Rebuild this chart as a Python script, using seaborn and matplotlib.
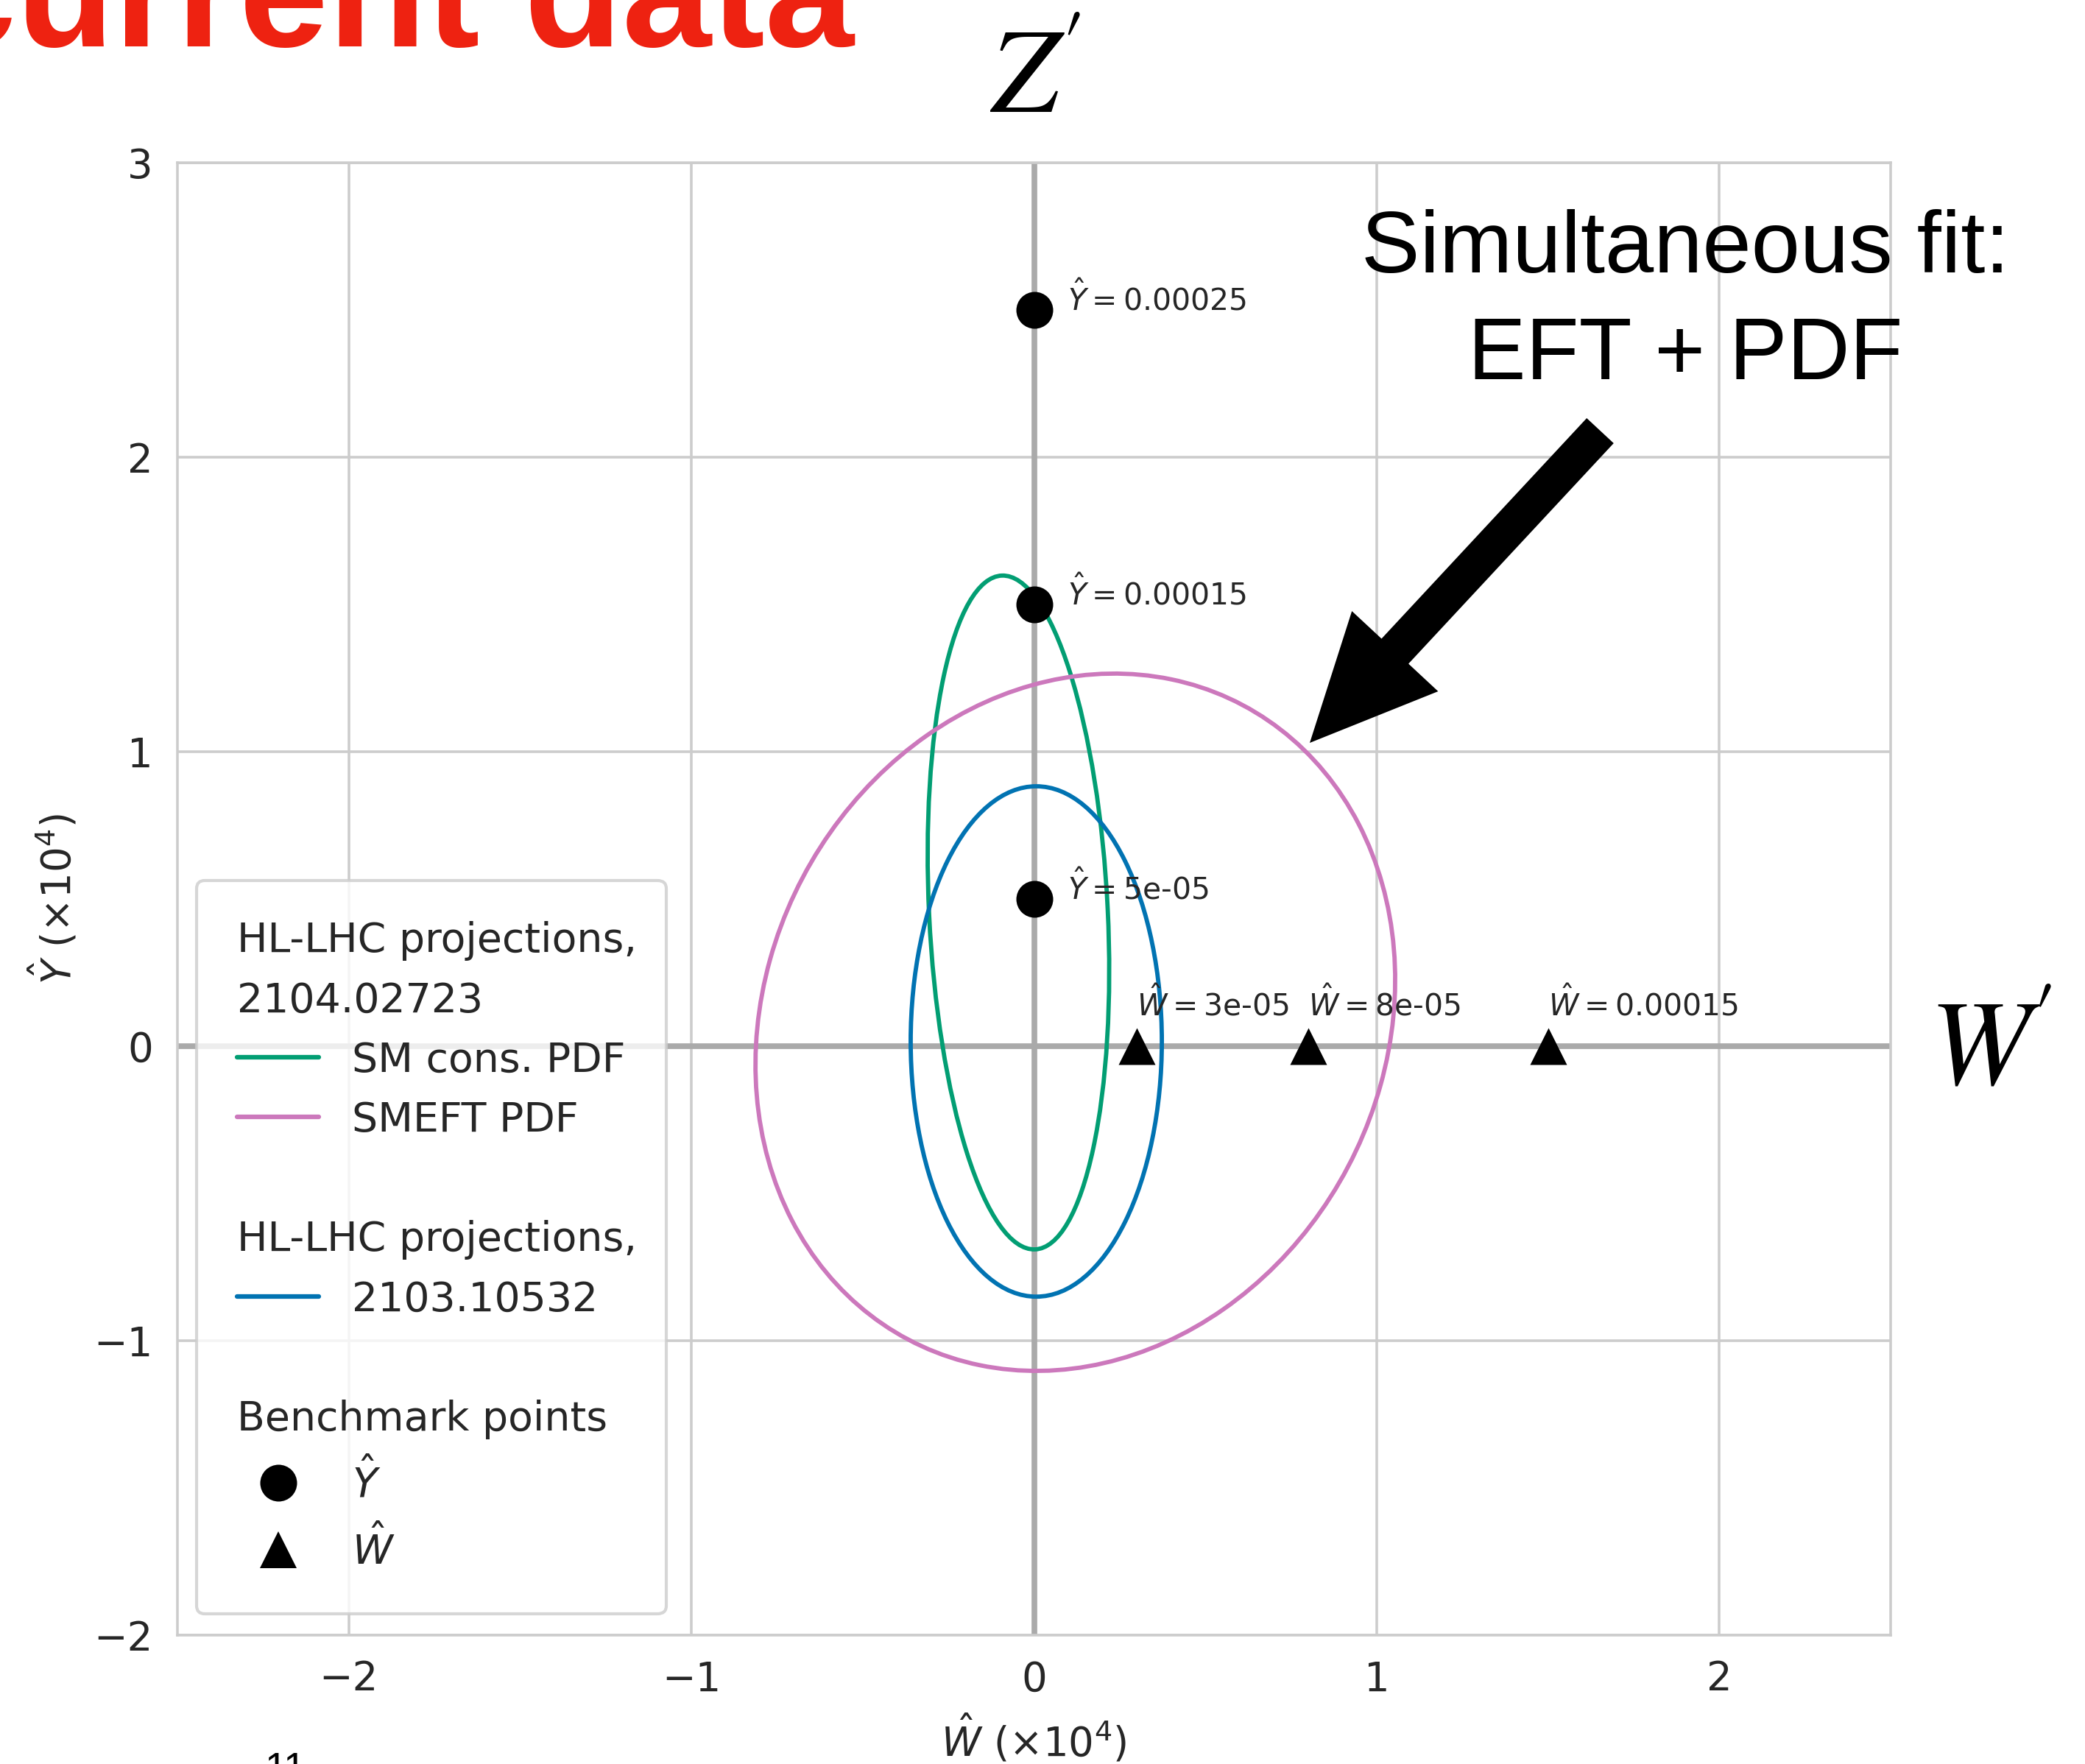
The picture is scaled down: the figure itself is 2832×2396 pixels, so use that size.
import numpy as np
import pandas as pd
import matplotlib
matplotlib.use("Agg")
import matplotlib.pyplot as plt
from matplotlib.patches import Ellipse, FancyArrow
from matplotlib.lines import Line2D
import seaborn as sns

# ---------------- data ----------------
scale = 1e4
bench_Y_values = [5e-05, 0.00015, 0.00025]      # Y-hat benchmark points (W-hat = 0)
bench_Y_W = [0.0, 0.0, 0.0]
bench_W_values = [3e-05, 8e-05, 0.00015]        # W-hat benchmark points (Y-hat = 0)
bench_W_Y = [0.0, 0.0, 0.0]

contour_labels = ["SM cons. PDF", "SMEFT PDF", "2103.10532"]
contour_center_W = [-0.0455, 0.1205, 0.0065]
contour_center_Y = [0.454, 0.0813, 0.016]
contour_width = [2.290, 2.395, 0.733]
contour_height = [0.5215, 1.832, 1.733]
contour_angle = [92.41, 76.52, 0.0]

xticks = [-2, -1, 0, 1, 2]
yticks = [-2, -1, 0, 1, 2, 3]

# ---------------- style ----------------
sns.set_theme(style="whitegrid", palette="colorblind")
plt.rcParams["font.family"] = ["DejaVu Sans"]
pal = sns.color_palette("colorblind")
contour_colors = [pal[2], pal[4], pal[0]]

DPI = 300
W_PX, H_PX = 2832, 2396
fig = plt.figure(figsize=(W_PX / DPI, H_PX / DPI), dpi=DPI)
ax = fig.add_axes([241 / W_PX, 1 - 2221 / H_PX, (2568 - 241) / W_PX, 2000 / H_PX])

FS = 13.1
LFS = 13.3
ax.set_xlim(-2.5, 2.5)
ax.set_ylim(-2, 3)
ax.set_xticks(xticks)
ax.set_yticks(yticks)
ax.tick_params(labelsize=FS, pad=8, length=0, colors=".15")
ax.grid(True, color=".8", lw=0.85)
for sp in ax.spines.values():
    sp.set_color(".8")
    sp.set_linewidth(0.85)

ax.axhline(0, color="#aaaaaa", lw=1.85, zorder=1)
ax.axvline(0, color="#aaaaaa", lw=1.85, zorder=1)

for cx, cy, w, h, a, c in zip(contour_center_W, contour_center_Y, contour_width,
                              contour_height, contour_angle, contour_colors):
    ax.add_patch(Ellipse((cx, cy), w, h, angle=a, fill=False, ec=c, lw=1.4, zorder=2))

dfY = pd.DataFrame({"W": np.array(bench_Y_W),
                    "Y": np.array(bench_Y_values) * scale})
dfW = pd.DataFrame({"W": np.array(bench_W_values) * scale,
                    "Y": np.array(bench_W_Y)})
sns.scatterplot(data=dfY, x="W", y="Y", marker="o", s=144, color="black",
                linewidth=0, zorder=3, ax=ax, legend=False)
sns.scatterplot(data=dfW, x="W", y="Y", marker="^", s=144, color="black",
                linewidth=0, zorder=3, ax=ax, legend=False)

ANN = 9.8
for v, w in zip(bench_Y_values, bench_Y_W):
    ax.annotate(rf"$\hat{{Y}} = ${v}", (w, v * scale), xytext=(11, 0),
                textcoords="offset points", fontsize=ANN, color=".15",
                ha="left", va="baseline", zorder=4)
for v, y in zip(bench_W_values, bench_W_Y):
    ax.annotate(rf"$\hat{{W}} = ${v}", (v * scale, y), xytext=(0, 10),
                textcoords="offset points", fontsize=ANN, color=".15",
                ha="left", va="baseline", zorder=4)

ax.set_xlabel(r"$\hat{W}$ ($\times 10^4$)", fontsize=FS, labelpad=4.5, color=".15")
ax.set_ylabel(r"$\hat{Y}$ ($\times 10^4$)", fontsize=FS, labelpad=4.5, color=".15")

# ---------------- legend ----------------
blank = Line2D([], [], linestyle="none")
handles = [blank, blank,
           Line2D([], [], color=contour_colors[0], lw=1.5),
           Line2D([], [], color=contour_colors[1], lw=1.5),
           blank, blank,
           Line2D([], [], color=contour_colors[2], lw=1.5),
           blank, blank,
           Line2D([], [], ls="none", marker="o", ms=12, color="black", mew=0),
           Line2D([], [], ls="none", marker="^", ms=12, color="black", mew=0)]
labels = ["", "", contour_labels[0], contour_labels[1], "", "",
          contour_labels[2], "", "", r"$\hat{Y}$", r"$\hat{W}$"]
headers = {0: "HL-LHC projections,", 1: "2104.02723",
           5: "HL-LHC projections,", 8: "Benchmark points"}

leg = ax.legend(handles, labels, loc="upper left",
                bbox_to_anchor=((267 - 241) / 2327, (2221 - 1196) / 2000),
                borderaxespad=0, fontsize=LFS, borderpad=1.0, labelspacing=0.49,
                handlelength=2.0, handletextpad=0.8, frameon=True,
                framealpha=0.8, edgecolor=".8", fancybox=True)
for t in leg.get_texts():
    t.set_color(".15")

fig.canvas.draw()
renderer = fig.canvas.get_renderer()
fs_px = LFS * DPI / 72.0
shift = (2.0 + 0.8) * fs_px
inv = fig.transFigure.inverted()
for i, txt in headers.items():
    bb = leg.get_texts()[i].get_window_extent(renderer)
    xf, yf = inv.transform((bb.x0 - shift, bb.y0))
    fig.text(xf, yf, txt, fontsize=LFS, color=".15", ha="left", va="baseline",
             zorder=10)

# ---------------- slide decorations ----------------
fig.text(-99 / W_PX, 1 - 63 / H_PX, "current data", fontsize=52.3,
         fontweight="bold", family="Liberation Sans", color="#EE2211",
         ha="left", va="baseline")
fig.text(1345 / W_PX, 1 - 153 / H_PX, r"$Z^{\!\prime}$", fontsize=39.5,
         math_fontfamily="stix", color="black", ha="left", va="baseline")
fig.text(2620 / W_PX, 1 - 1473 / H_PX, r"$W^{\!\prime}$", fontsize=39.5,
         math_fontfamily="stix", color="black", ha="left", va="baseline")
fig.text(2289 / W_PX, 1 - 370 / H_PX, "Simultaneous fit:", fontsize=28.6,
         family="Liberation Sans", color="black", ha="center", va="baseline")
fig.text(2289 / W_PX, 1 - 515 / H_PX, "EFT + PDF", fontsize=28.3,
         family="Liberation Sans", color="black", ha="center", va="baseline")
fig.text(360 / W_PX, -22 / H_PX, "11", fontsize=13,
         family="Liberation Sans", color="black", ha="left", va="baseline")

arrow = FancyArrow(2173.5 / DPI, (H_PX - 585) / DPI, -394.5 / DPI, -424 / DPI,
                   width=50 / DPI, head_width=160 / DPI, head_length=170 / DPI,
                   length_includes_head=True, color="black", lw=0,
                   transform=fig.dpi_scale_trans)
fig.add_artist(arrow)

fig.savefig("out.png", dpi=DPI)
